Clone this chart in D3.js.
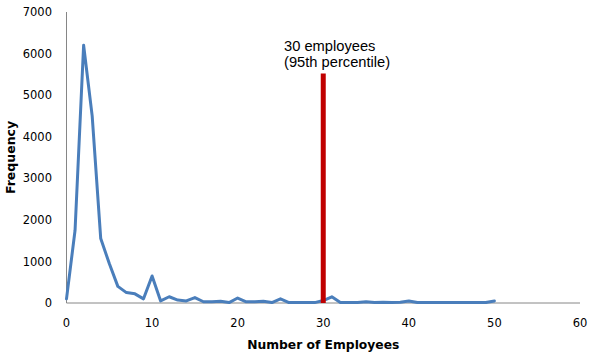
<!DOCTYPE html>
<html><head><meta charset="utf-8">
<script src="https://cdn.jsdelivr.net/npm/d3@7"></script>
<style>body{margin:0;background:#fff}svg{display:block}</style>
</head><body><svg id="c" width="595" height="352"></svg>
<script>
const employees = d3.range(0, 51);
const frequency = [100,1750,6200,4500,1550,950,400,250,220,100,
  650,50,150,70,50,130,30,30,40,10,
  120,30,30,40,10,100,10,10,10,10,
  60,150,10,10,10,30,10,20,10,20,
  50,10,10,10,10,10,10,10,10,10,50];
const xTicks = [0,10,20,30,40,50,60];
const yTicks = [0,1000,2000,3000,4000,5000,6000,7000];
const marker = {x:30, top:5520, line1:"30 employees", line2:"(95th percentile)"};

const svg = d3.select("#c");
const x = d3.scaleLinear().domain([0,60]).range([66.5,580]);
const y = d3.scaleLinear().domain([0,7000]).range([303,12]);

svg.append("line").attr("x1",x(0)).attr("x2",x(0)).attr("y1",y(7000)).attr("y2",y(0)).attr("stroke","#868686").attr("stroke-width",1);
svg.append("line").attr("x1",x(0)).attr("x2",x(60)).attr("y1",y(0)).attr("y2",y(0)).attr("stroke","#868686").attr("stroke-width",1);

svg.append("g").selectAll("text").data(yTicks).join("text")
  .attr("x",52).attr("y",d=>y(d)).attr("dy","0.36em").attr("text-anchor","end")
  .attr("font-family","DejaVu Sans, Verdana, sans-serif").attr("font-size",11.5).attr("fill","#000")
  .text(d=>d);
svg.append("g").selectAll("text").data(xTicks).join("text")
  .attr("x",d=>x(d)).attr("y",327).attr("text-anchor","middle")
  .attr("font-family","DejaVu Sans, Verdana, sans-serif").attr("font-size",11.5).attr("fill","#000")
  .text(d=>d);

svg.append("text").attr("x",(x(0)+x(60))/2).attr("y",349).attr("text-anchor","middle")
  .attr("font-family","DejaVu Sans, Verdana, sans-serif").attr("font-size",12.3).attr("font-weight","bold")
  .text("Number of Employees");
svg.append("text").attr("transform","translate(15,"+((y(0)+y(7000))/2)+") rotate(-90)").attr("text-anchor","middle")
  .attr("font-family","DejaVu Sans, Verdana, sans-serif").attr("font-size",12.5).attr("font-weight","bold")
  .text("Frequency");

const line = d3.line().x((d,i)=>x(employees[i])).y(d=>y(d));
svg.append("path").datum(frequency).attr("d",line).attr("fill","none")
  .attr("stroke","#4a7ebb").attr("stroke-width",3).attr("stroke-linejoin","round").attr("stroke-linecap","round");

svg.append("line").attr("x1",x(marker.x)).attr("x2",x(marker.x)).attr("y1",y(marker.top)).attr("y2",y(0))
  .attr("stroke","#c00000").attr("stroke-width",5);
svg.append("text").attr("x",284).attr("y",51).attr("font-family","Liberation Sans, Arial, sans-serif").attr("font-size",14.7).text(marker.line1);
svg.append("text").attr("x",284).attr("y",67).attr("font-family","Liberation Sans, Arial, sans-serif").attr("font-size",14.7).text(marker.line2);
</script></body></html>
